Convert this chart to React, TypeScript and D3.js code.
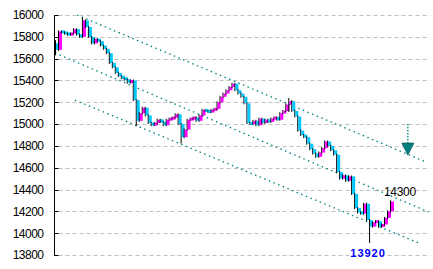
import React from "react";
import * as d3 from "d3";

// ---- data ----
const yTicks = [13800, 14000, 14200, 14400, 14600, 14800, 15000, 15200, 15400, 15600, 15800, 16000];
const firstOpen = 15740;
const closes = [
  15680, 15850, 15840, 15830, 15820, 15830, 15870, 15820, 15800, 15950,
  15890, 15800, 15740, 15780, 15760, 15720, 15690, 15650, 15560, 15520,
  15470, 15440, 15420, 15410, 15380, 15400, 15220, 15030, 15100, 15150,
  15080, 15010, 14990, 15010, 15040, 15020, 14990, 15040, 15050, 15060,
  15090, 15000, 14880, 14950, 15040, 15050, 15060, 15030, 15080, 15130,
  15120, 15110, 15130, 15140, 15200, 15250, 15280, 15310, 15340, 15370,
  15310, 15280, 15250, 15190, 15010, 15000, 15030, 14990, 15050, 15010,
  15040, 15020, 15050, 15060, 15040, 15100, 15120, 15180, 15210, 15120,
  15070, 14940, 14900, 14880, 14820, 14770, 14730, 14700, 14740, 14780,
  14840, 14800, 14760, 14720, 14560, 14500, 14530, 14480, 14520, 14360,
  14230, 14190, 14180, 14270, 14120, 14060, 14100, 14110, 14060, 14080,
  14140, 14200, 14290,
];
// sparse wick extremes: [index, high, low]
const extremes: [number, number, number][] = [
  [0, 15760, 15640],
  [9, 15970, 15820],
  [27, 15220, 14990],
  [42, 14960, 14830],
  [78, 15230, 15120],
  [105, 14110, 13920],
];
// trend lines: [startIndex, startPrice, endIndex, endPrice]
const trendTop = [6.7, 16000, 122.7, 14660];
const trendMid = [-0.7, 15652, 124.3, 14194];
const trendBot = [6, 15220, 121, 13909];
// arrow: [index, fromPrice, toPrice]
const arrow = [117.3, 15000, 14716];
const lastLabel = "14300";
const lowLabel = "13920";
const lowIndex = 105;
const lowValue = 13920;

const W = 433;
const H = 269;

export default function App() {
  const y = d3.scaleLinear().domain([13800, 16000]).range([255, 15]);
  const x = d3.scaleLinear().domain([0, closes.length - 1]).range([57, 392]);
  const axisX = 54.5;
  const gridEnd = 430;
  const font = "'Liberation Sans', Arial, sans-serif";
  const teal = "#008080";

  const candles = closes.map((c, i) => {
    const o = i === 0 ? firstOpen : closes[i - 1];
    const ex = extremes.find((e) => e[0] === i);
    const hi = ex ? Math.max(ex[1], o, c) : Math.max(o, c);
    const lo = ex ? Math.min(ex[2], o, c) : Math.min(o, c);
    const xs = x(i);
    let top = y(Math.max(o, c));
    let bot = y(Math.min(o, c));
    if (bot - top < 3) {
      const m = (top + bot) / 2;
      top = m - 1.5;
      bot = m + 1.5;
    }
    const up = c > o;
    return { xs, top, bot, hiY: y(hi), loY: y(lo), up, key: i };
  });

  const trend = (t: number[], k: string) => (
    <line
      key={k}
      x1={x(t[0])}
      y1={y(t[1])}
      x2={x(t[2])}
      y2={y(t[3])}
      stroke={teal}
      strokeWidth={1.3}
      strokeDasharray="1.5,3.5"
    />
  );

  const ax = x(arrow[0]);
  const aTop = y(arrow[1]);
  const aTip = y(arrow[2]);
  const triTop = aTip - 12;

  return (
    <svg width={W} height={H} style={{ position: "absolute", left: 0, top: 0, background: "#fff" }}>
      {/* grid */}
      {yTicks.map((t) => (
        <line
          key={"g" + t}
          x1={axisX + 4}
          x2={gridEnd}
          y1={Math.round(y(t)) + 0.5}
          y2={Math.round(y(t)) + 0.5}
          stroke="#c0c0c0"
          strokeWidth={1}
          strokeDasharray="4,3"
        />
      ))}
      {/* axis */}
      <line x1={axisX} x2={axisX} y1={Math.round(y(16000))} y2={Math.round(y(13800)) + 1} stroke="#000" strokeWidth={1} />
      {yTicks.map((t) => (
        <g key={"t" + t}>
          <line x1={axisX} x2={axisX + 4} y1={Math.round(y(t)) + 0.5} y2={Math.round(y(t)) + 0.5} stroke="#000" />
          <text
            x={43.5}
            y={y(t)}
            dy="0.36em"
            textAnchor="end"
            fontFamily={font}
            fontSize={12}
            letterSpacing={-0.5}
            fill="#000"
          >
            {t}
          </text>
        </g>
      ))}
      {/* trend lines */}
      {trend(trendTop, "tt")}
      {trend(trendMid, "tm")}
      {trend(trendBot, "tb")}
      {/* candles */}
      {candles.map((c) => (
        <g key={c.key}>
          <rect x={c.xs - 2} y={c.hiY - 1} width={1} height={c.loY - c.hiY + 2} fill="#000" />
          <rect x={c.xs - 1} y={c.top} width={3} height={c.bot - c.top} fill={c.up ? "#ff00ff" : "#00c8ff"} />
        </g>
      ))}
      {/* arrow */}
      <line x1={ax} x2={ax} y1={aTop} y2={triTop} stroke={teal} strokeWidth={1.3} strokeDasharray="1.5,1.5" />
      <path
        d={`M${ax - 6},${triTop} L${ax + 6},${triTop} L${ax},${aTip} Z`}
        fill={teal}
        stroke="#0a6060"
        strokeWidth={0.8}
      />
      {/* labels */}
      <text x={x(closes.length - 1) - 8} y={y(14300) - 4.5} fontFamily={font} fontSize={12} letterSpacing={-0.3} fill="#000">
        {lastLabel}
      </text>
      <text
        x={x(lowIndex) - 3}
        y={y(lowValue) + 15}
        textAnchor="middle"
        fontFamily={font}
        fontSize={11}
        fontWeight="bold"
        letterSpacing={1}
        fill="#0000ff"
      >
        {lowLabel}
      </text>
    </svg>
  );
}
